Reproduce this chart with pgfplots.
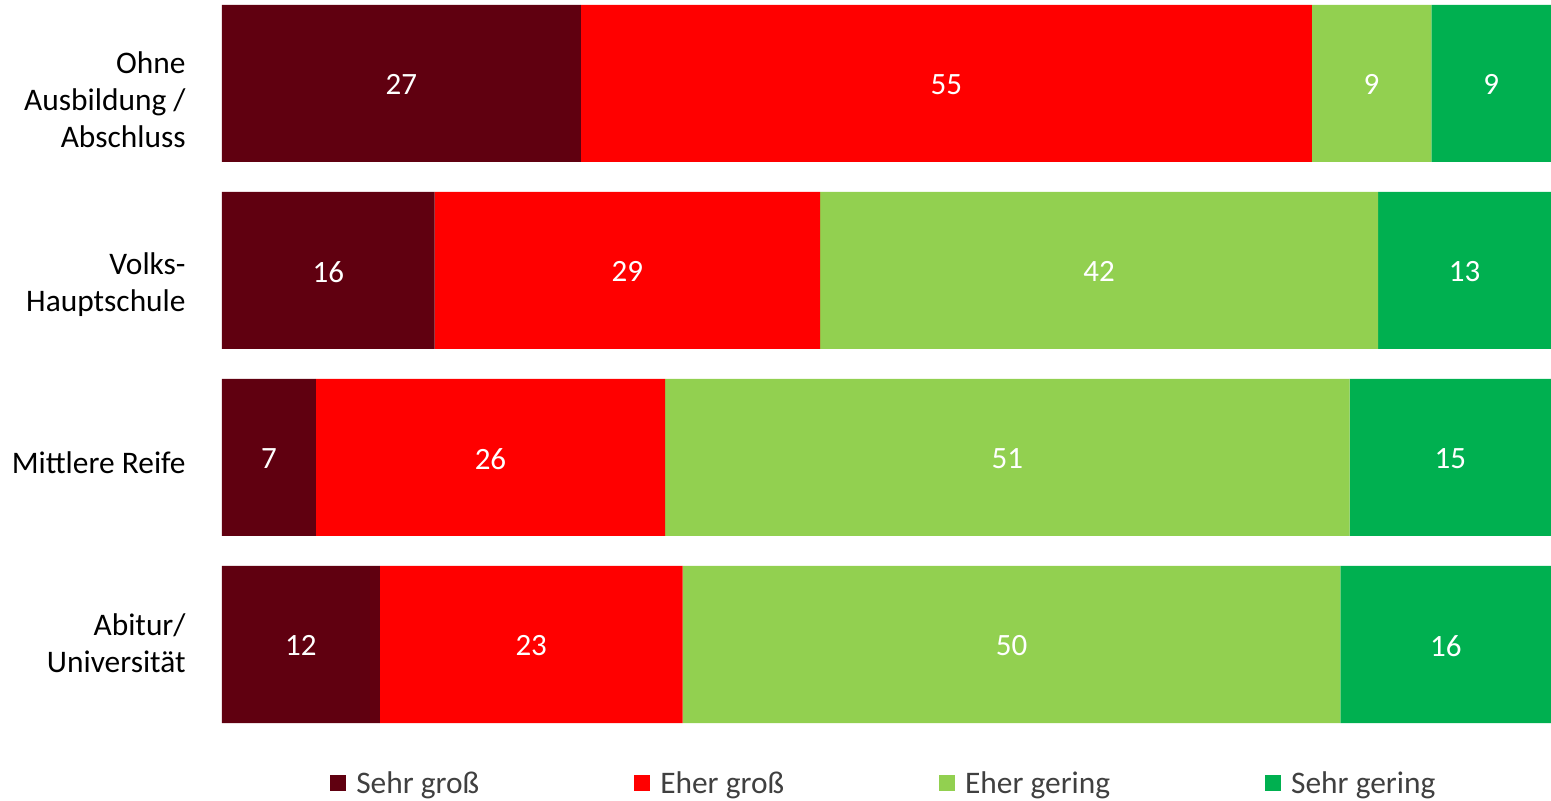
\documentclass[border=0pt]{standalone}
\usepackage{pgfplots}
\pgfplotsset{compat=1.18}
\usepackage{pgfplotstable}
\usepackage{fontspec}
\setmainfont{Carlito}
\definecolor{cSG}{HTML}{600010}
\definecolor{cEG}{HTML}{FF0000}
\definecolor{cEGe}{HTML}{92D050}
\definecolor{cSGe}{HTML}{00B050}
\definecolor{legtext}{HTML}{404040}
\newcommand\lblfont{\fontsize{15.7}{18.7}\selectfont}
\newcommand\valfont{\fontsize{15.5}{18}\selectfont}
\newcommand\lab[2]{\raisebox{#1}[0pt][0pt]{\begin{tabular}{@{}r@{}}#2\end{tabular}}}

% y: 0 = Ohne Ausbildung, 1 = Volks-/Hauptschule, 2 = Mittlere Reife, 3 = Abitur
% v = share of the bar (rows normalised to 100), lab = printed value
\pgfplotstableread{
y v lab
0 27 27
1 16 16
2 7.0707 7
3 11.881 12
}\sehrgross
\pgfplotstableread{
y v lab
0 55 55
1 29 29
2 26.2626 26
3 22.772 23
}\ehergross
\pgfplotstableread{
y v lab
0 9 9
1 42 42
2 51.5152 51
3 49.505 50
}\ehergering
\pgfplotstableread{
y v lab
0 9 9
1 13 13
2 15.1515 15
3 15.842 16
}\sehrgering

\begin{document}
\begin{tikzpicture}
\begin{axis}[
  at={(0,0)}, anchor=south west,
  scale only axis,
  width=664.5pt, height=359pt,
  xbar stacked,
  bar width=78.5pt,
  xmin=0, xmax=100,
  ymin=-0.4198, ymax=3.4198,
  y dir=reverse,
  axis line style={draw=none},
  xtick=\empty,
  ytick={0,1,2,3},
  major tick length=0pt,
  yticklabels={
    {\lab{-13.35pt}{Ohne\\Ausbildung /\\Abschluss}},
    {\lab{-11.25pt}{Volks-\\Hauptschule}},
    {\lab{-8pt}{Mittlere Reife}},
    {\lab{-4.75pt}{Abitur/\\Universität}}},
  yticklabel style={font=\lblfont, inner sep=0pt, xshift=-18pt, anchor=east, text=black},
  point meta=explicit symbolic,
  nodes near coords,
  every node near coord/.append style={font=\valfont, text=white, anchor=center, yshift=-0.7pt},
  legend columns=4,
  legend style={draw=none, fill=none, at={(axis description cs:0.501,-0.085)}, anchor=center,
     font=\lblfont, text=legtext,
     /tikz/every even column/.append style={column sep=72.5pt},
     nodes={inner xsep=5pt, inner ysep=1pt}},
  legend image code/.code={\fill[#1,draw=none] (0pt,-3.5pt) rectangle (8pt,4.5pt);},
]
\addplot[fill=cSG, draw=none] table[x=v, y=y, meta=lab] {\sehrgross};
\addlegendentry{Sehr groß}
\addplot[fill=cEG, draw=none] table[x=v, y=y, meta=lab] {\ehergross};
\addlegendentry{Eher groß}
\addplot[fill=cEGe, draw=none] table[x=v, y=y, meta=lab] {\ehergering};
\addlegendentry{Eher gering}
\addplot[fill=cSGe, draw=none] table[x=v, y=y, meta=lab] {\sehrgering};
\addlegendentry{Sehr gering}
\end{axis}
\pgfresetboundingbox
\path (-111pt,-39pt) rectangle (664.5pt,361.5pt);
\end{tikzpicture}
\end{document}
